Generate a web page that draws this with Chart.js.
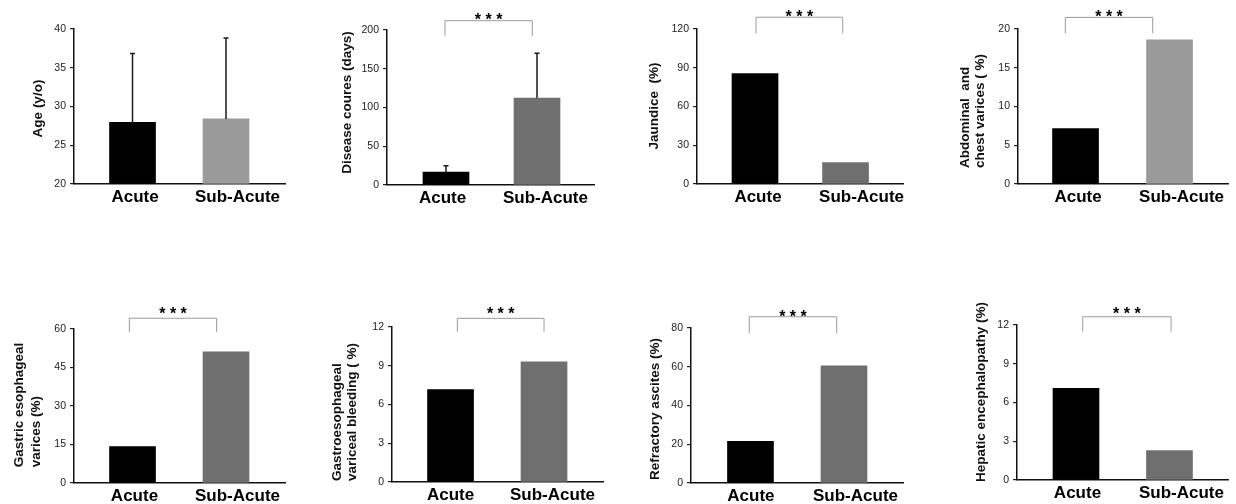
<!DOCTYPE html>
<html>
<head>
<meta charset="utf-8">
<script src="https://cdn.jsdelivr.net/npm/chart.js@4.4.1/dist/chart.umd.min.js"></script>
<style>
  body { margin: 0; background: #fff; width: 1236px; height: 504px; position: relative; overflow: hidden; }
  canvas { position: absolute; }
</style>
</head>
<body>
<script>
var categories = ['Acute', 'Sub-Acute'];

// values
var ageMean = [27.95, 28.4];
var ageSD = [8.9, 10.45];
var courseMean = [16.8, 112.3];
var courseSD = [8.1, 57.6];
var jaundice = [85.5, 16.5];
var abdominalVarices = [7.16, 18.6];
var gastricVarices = [14.2, 51.1];
var varicealBleeding = [7.15, 9.31];
var refractoryAscites = [21.5, 60.5];
var encephalopathy = [7.1, 2.27];

// y tick labels
var ageTicks = [20, 25, 30, 35, 40];
var courseTicks = [0, 50, 100, 150, 200];
var jaundiceTicks = [0, 30, 60, 90, 120];
var abdominalTicks = [0, 5, 10, 15, 20];
var gastricTicks = [0, 15, 30, 45, 60];
var bleedingTicks = [0, 3, 6, 9, 12];
var ascitesTicks = [0, 20, 40, 60, 80];
var encephalopathyTicks = [0, 3, 6, 9, 12];

var stars = '* * *';

var FONT = '"Liberation Sans", Arial, sans-serif';
var colLeft = [0, 309, 618, 927];
var rowTop = [0, 252];
var CW = 309, CH = 252;
var LIGHT = '#9a9a9a', DARK = '#6f6f6f';

var panels = [
  {values: ageMean, sd: ageSD, ticks: ageTicks, title: ['Age (y/o)'], sig: null,
   col: 0, row: 0, left: 74, right: 285, top: 29, bottom: 184, xMin: -0.626, xMax: 1.631,
   labelAt: [0.027, 1.123], titleX: [38], titleY: 108.5, sub: LIGHT},
  {values: courseMean, sd: courseSD, ticks: courseTicks, title: ['Disease coures (days)'], sig: stars,
   col: 1, row: 0, left: 387, right: 594, top: 30, bottom: 185, xMin: -0.648, xMax: 1.626,
   labelAt: [-0.038, 1.093], titleX: [347], titleY: 102.5, sub: DARK,
   bracketX: [-0.011, 0.948], bracketY: [212, 192.3], starGap: 5},
  {values: jaundice, ticks: jaundiceTicks, title: ['Jaundice  (%)'], sig: stars,
   col: 2, row: 0, left: 697, right: 903, top: 29, bottom: 184, xMin: -0.641, xMax: 1.635,
   labelAt: [0.033, 1.177], titleX: [654], titleY: 106, sub: DARK,
   bracketX: [0.011, 0.969], bracketY: [129.1, 116.7], starGap: 4},
  {values: abdominalVarices, ticks: abdominalTicks, title: ['Abdominal  and', 'chest varices ( %)'], sig: stars,
   col: 3, row: 0, left: 1018, right: 1228, top: 29, bottom: 184, xMin: -0.612, xMax: 1.622,
   labelAt: [0.027, 1.128], titleX: [965, 980.5], titleY: 111, sub: LIGHT,
   bracketX: [-0.109, 0.821], bracketY: [21.5, 19.45], starGap: 4.5},
  {values: gastricVarices, ticks: gastricTicks, title: ['Gastric esophageal', 'varices (%)'], sig: stars,
   col: 0, row: 1, left: 74, right: 285, top: 329, bottom: 483, xMin: -0.626, xMax: 1.631,
   labelAt: [0.021, 1.123], titleX: [19, 36.5], titleY: 405, sub: DARK,
   bracketX: [-0.034, 0.900], bracketY: [64.2, 58.9], starGap: 8},
  {values: varicealBleeding, ticks: bleedingTicks, title: ['Gastroesophageal', 'variceal bleeding ( %)'], sig: stars,
   col: 1, row: 1, left: 392, right: 603, top: 327, bottom: 482, xMin: -0.626, xMax: 1.631,
   labelAt: [0, 1.091], titleX: [337.5, 352], titleY: 412, sub: DARK,
   bracketX: [0.073, 1.0], bracketY: [12.67, 11.64], starGap: 8},
  {values: refractoryAscites, ticks: ascitesTicks, title: ['Refractory ascites (%)'], sig: stars,
   col: 2, row: 1, left: 691, right: 903, top: 328, bottom: 483, xMin: -0.636, xMax: 1.631,
   labelAt: [0.005, 1.123], titleX: [655.5], titleY: 409, sub: DARK,
   bracketX: [-0.013, 0.922], bracketY: [85.8, 77.3], starGap: 4},
  {values: encephalopathy, ticks: encephalopathyTicks, title: ['Hepatic encephalopathy (%)'], sig: stars,
   col: 3, row: 1, left: 1017, right: 1228, top: 325, bottom: 480, xMin: -0.631, xMax: 1.626,
   labelAt: [0.016, 1.128], titleX: [981.5], titleY: 392, sub: DARK,
   bracketX: [0.072, 1.017], bracketY: [12.64, 11.48], starGap: 6.7}
];

// one-sided SD bars on top of the columns
var errorBars = {
  id: 'errorBars',
  afterDatasetsDraw: function(chart) {
    var p = chart.options.panel;
    if (!p.sd) return;
    var ctx = chart.ctx, x = chart.scales.x, y = chart.scales.y;
    ctx.save();
    ctx.strokeStyle = '#1a1a1a';
    ctx.lineWidth = 1.5;
    p.values.forEach(function(v, i) {
      var px = x.getPixelForValue(i);
      var y0 = y.getPixelForValue(v);
      var y1 = y.getPixelForValue(v + p.sd[i]);
      ctx.beginPath();
      ctx.moveTo(px, y0);
      ctx.lineTo(px, y1);
      ctx.moveTo(px - 2.5, y1);
      ctx.lineTo(px + 2.5, y1);
      ctx.stroke();
    });
    ctx.restore();
  }
};

// significance bracket with stars
var bracket = {
  id: 'bracket',
  afterDraw: function(chart) {
    var p = chart.options.panel;
    if (!p.sig) return;
    var ctx = chart.ctx, x = chart.scales.x, y = chart.scales.y;
    var x1 = x.getPixelForValue(p.bracketX[0]);
    var x2 = x.getPixelForValue(p.bracketX[1]);
    var yt = y.getPixelForValue(p.bracketY[0]);
    var yb = y.getPixelForValue(p.bracketY[1]);
    ctx.save();
    ctx.strokeStyle = '#9a9a9a';
    ctx.lineWidth = 1;
    ctx.beginPath();
    ctx.moveTo(x1, yb);
    ctx.lineTo(x1, yt);
    ctx.lineTo(x2, yt);
    ctx.lineTo(x2, yb);
    ctx.stroke();
    ctx.fillStyle = '#000';
    ctx.font = 'bold 16px ' + FONT;
    ctx.textAlign = 'center';
    ctx.textBaseline = 'alphabetic';
    ctx.fillText(p.sig, (x1 + x2) / 2, yt - p.starGap + 9);
    ctx.restore();
  }
};

// rotated y titles, lines left aligned, block centred
var yTitle = {
  id: 'yTitle',
  afterDraw: function(chart) {
    var p = chart.options.panel;
    var ctx = chart.ctx;
    var cl = colLeft[p.col], rt = rowTop[p.row];
    ctx.save();
    ctx.font = 'bold 13.5px ' + FONT;
    ctx.fillStyle = '#111';
    ctx.textAlign = 'left';
    ctx.textBaseline = 'middle';
    var w = 0;
    p.title.forEach(function(t) { w = Math.max(w, ctx.measureText(t).width); });
    p.title.forEach(function(t, i) {
      ctx.save();
      ctx.translate(p.titleX[i] - cl, p.titleY - rt + w / 2);
      ctx.rotate(-Math.PI / 2);
      ctx.fillText(t, 0, 0);
      ctx.restore();
    });
    ctx.restore();
  }
};

function getChart(p) {
  var cl = colLeft[p.col], rt = rowTop[p.row];
  var canvas = document.createElement('canvas');
  canvas.width = CW;
  canvas.height = CH;
  canvas.style.left = cl + 'px';
  canvas.style.top = rt + 'px';
  document.body.appendChild(canvas);

  new Chart(canvas.getContext('2d'), {
    type: 'bar',
    data: {
      datasets: [{
        data: p.values.map(function(v, i) { return {x: i, y: v}; }),
        backgroundColor: ['#000000', p.sub],
        borderWidth: 0,
        barThickness: 46,
        base: p.ticks[0]
      }]
    },
    options: {
      panel: p,
      responsive: false,
      animation: false,
      layout: { padding: { top: p.top - rt, right: cl + CW - p.right, left: 0, bottom: 0 } },
      plugins: { legend: { display: false }, tooltip: { enabled: false } },
      scales: {
        x: {
          type: 'linear',
          offset: false,
          bounds: 'data',
          min: p.xMin,
          max: p.xMax,
          grid: { display: false, drawTicks: false, offset: false },
          border: { display: true, color: '#111', width: 1.5 },
          ticks: {
            font: { family: FONT, size: 17, weight: 'bold' },
            color: '#000',
            padding: 3,
            autoSkip: false,
            maxRotation: 0,
            callback: function(v, i) { return categories[i]; }
          },
          afterBuildTicks: function(s) {
            s.ticks = p.labelAt.map(function(v) { return {value: v}; });
          },
          afterFit: function(s) { s.height = rt + CH - p.bottom; }
        },
        y: {
          min: p.ticks[0],
          max: p.ticks[p.ticks.length - 1],
          grid: { drawOnChartArea: false, drawTicks: true, tickLength: 4, color: '#222', lineWidth: 1.2 },
          border: { display: true, color: '#111', width: 1.5 },
          ticks: { font: { family: FONT, size: 10.5 }, color: '#222', padding: 4 },
          afterBuildTicks: function(s) {
            s.ticks = p.ticks.map(function(v) { return {value: v}; });
          },
          afterFit: function(s) { s.width = p.left - cl; }
        }
      }
    },
    plugins: [errorBars, bracket, yTitle]
  });
}

panels.forEach(getChart);
</script>
</body>
</html>
